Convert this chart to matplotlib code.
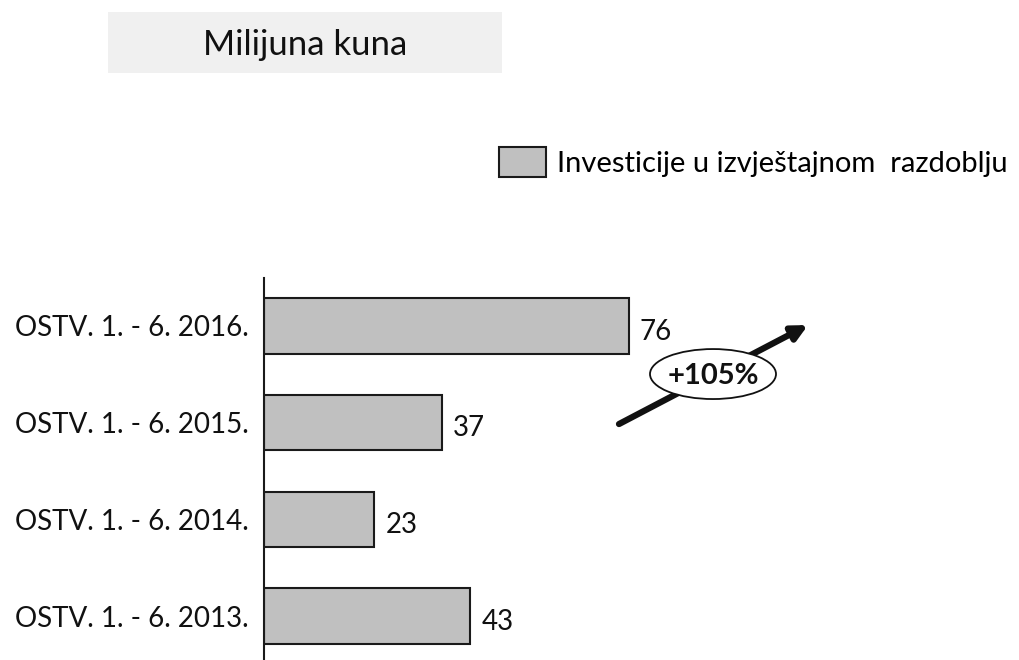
import matplotlib
matplotlib.use("Agg")
import matplotlib.pyplot as plt
from matplotlib.patches import Patch, Ellipse, FancyBboxPatch

categories = ["OSTV. 1. - 6. 2013.", "OSTV. 1. - 6. 2014.", "OSTV. 1. - 6. 2015.", "OSTV. 1. - 6. 2016."]
values = [43, 23, 37, 76]
legend_label = "Investicije u izvještajnom  razdoblju"
title = "Milijuna kuna"
growth_label = "+105%"

plt.rcParams['font.family'] = ['Lato', 'DejaVu Sans']

W, H = 1019, 660
fig = plt.figure(figsize=(W / 100, H / 100), dpi=100)
fig.patch.set_facecolor('white')

ax_left = 264 / W
ax_right = 1010 / W
ax_bottom = 0.0
ax_top = (H - 278) / H
ax = fig.add_axes([ax_left, ax_bottom, ax_right - ax_left, ax_top - ax_bottom])

px_per_unit = 4.8
ax.set_xlim(0, (1010 - 264) / px_per_unit)
ax.set_ylim(-0.455, 3.496)

ypos = list(range(len(categories)))
ax.barh(ypos, values, height=0.57, color='#C0C0C0', edgecolor='#1a1a1a', linewidth=1.5, zorder=2)

for y, v in zip(ypos, values):
    ax.text(v + 2.3, y - 0.06, str(v), ha='left', va='center', fontsize=20, color='#111111')

ax.set_yticks(ypos)
ax.set_yticklabels(categories, fontsize=20, color='#111111')
ax.tick_params(axis='y', length=0, pad=11)
ax.set_xticks([])
for s in ['top', 'right', 'bottom']:
    ax.spines[s].set_visible(False)
ax.spines['left'].set_linewidth(1.5)
ax.spines['left'].set_color('#1a1a1a')

# growth arrow
def dx(px):
    return (px - 264) / px_per_unit

def dy(py):
    return (616 - py) / 96.7

ax.annotate('', xy=(dx(808), dy(325)), xytext=(dx(619), dy(424)),
            arrowprops=dict(arrowstyle='-|>,head_length=0.9,head_width=0.45', lw=4.5, color='#111111',
                            shrinkA=0, shrinkB=0), annotation_clip=False, zorder=3)
ell = Ellipse((dx(713), dy(374)), 126 / px_per_unit, 50 / 96.7, facecolor='white',
              edgecolor='#111111', linewidth=1.3, zorder=4, clip_on=False)
ax.add_patch(ell)
ax.text(dx(713), dy(376), growth_label, ha='center', va='center', fontsize=21,
        fontweight='bold', color='#111111', zorder=5)

# title box
fig.patches.append(FancyBboxPatch((108 / W, 1 - 73 / H), (502 - 108) / W, (73 - 12) / H,
                                  boxstyle='square,pad=0', transform=fig.transFigure,
                                  facecolor='#F0F0F0', edgecolor='none', zorder=0))
fig.text(305 / W, 1 - 45 / H, title, ha='center', va='center', fontsize=25, color='#111111')

# legend
handle = Patch(facecolor='#C0C0C0', edgecolor='#1a1a1a', linewidth=1.5, label=legend_label)
fig.legend(handles=[handle], loc='center left', bbox_to_anchor=(499 / W, 1 - 162 / H),
           frameon=False, fontsize=21, handlelength=1.6, handleheight=1.2,
           handletextpad=0.4, borderpad=0, borderaxespad=0)

fig.savefig('out.png', dpi=100)
